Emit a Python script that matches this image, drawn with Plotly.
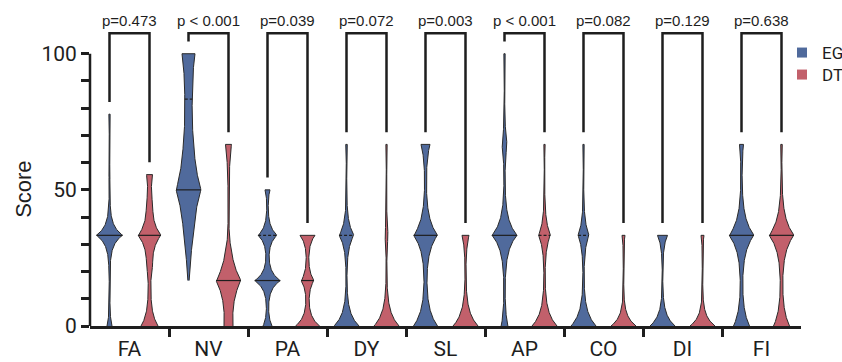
import numpy as np
import plotly.graph_objects as go

# ---------------- data ----------------
SCALES = ["FA", "NV", "PA", "DY", "SL", "AP", "CO", "DI", "FI"]
P_TEXT = ["p=0.473", "p < 0.001", "p=0.039", "p=0.072", "p=0.003",
          "p < 0.001", "p=0.082", "p=0.129", "p=0.638"]

# response levels of each scale (scores step)
LEVEL_STEP = [100 / 9, 100 / 6, 100 / 6, 100 / 3, 100 / 3, 100 / 3, 100 / 3, 100 / 3, 100 / 3]

# observed range of each group
EG_MIN = [0, 16.7, 0, 0, 0, 0, 0, 0, 0]
EG_MAX = [77.8, 100, 50, 66.7, 66.7, 100, 66.7, 33.3, 66.7]
DT_MIN = [0, 0, 0, 0, 0, 0, 0, 0, 0]
DT_MAX = [55.6, 66.7, 33.3, 66.7, 33.3, 66.7, 33.3, 33.3, 66.7]

# relative density (violin width) at each response level, from the minimum upward
EG_DENSITY = [
    [0.20, 0.05, 0.06, 1.04, 0.06, 0.05, 0.05, 0.05],
    [0.05, 0.38, 1.00, 0.42, 0.30, 0.52],
    [0.36, 1.02, 0.76, 0.20],
    [1.00, 0.60, 0.06],
    [0.96, 0.96, 0.36],
    [0.27, 1.00, 0.22, 0.05],
    [1.00, 0.44, 0.05],
    [1.00, 0.40],
    [0.64, 1.00, 0.16],
]
DT_DENSITY = [
    [0.68, 0.12, 0.26, 0.92, 0.28, 0.24],
    [0.36, 1.00, 0.06, 0.04, 0.24],
    [0.96, 0.52, 0.60],
    [1.00, 0.14, 0.05],
    [1.00, 0.28],
    [1.00, 0.48, 0.05],
    [1.00, 0.12],
    [1.00, 0.12],
    [0.64, 1.00, 0.06],
]
# kernel bandwidth of each density estimate (score units)
EG_BW = [3.5, 14, 3.2, 4.5, 6, 5.5, 5, 4, 6]
DT_BW = [5, 8, 3.5, 5, 5, 5, 3.5, 3.5, 6]

# medians (solid line) and visible upper quartiles (dashed line)
EG_MEDIAN = [33.3, 50, 16.7, 0, 33.3, 33.3, 0, 0, 33.3]
DT_MEDIAN = [33.3, 16.7, 16.7, 0, 0, 0, 0, 0, 33.3]
EG_Q3 = [None, 83.3, 33.3, 33.3, None, None, 33.3, None, None]
DT_Q3 = [None, None, None, None, None, 33.3, None, None, None]

GROUPS = ["EG", "DT"]
COLORS = {"EG": "#506A9C", "DT": "#C2606B"}

# ---------------- styling constants ----------------
PX_PER_CAT = 79.0
OFFSET = 20 / PX_PER_CAT          # group offset from category centre
HALF = 12.5 / PX_PER_CAT          # half width of a density of 1
FLOOR = 0.02
BRACKET_TOP = 107.5
BRACKET_GAP = 4.5
P_Y = 112.3
YMAX = 119.0
AXF = "Roboto, Liberation Sans, sans-serif"
REG = "Liberation Sans, Arial, sans-serif"
INK = "#1e1e1e"
PLOT_TOP, PLOT_BOTTOM = 2, 326    # px


def profile(levels, dens, bw, y):
    L = np.asarray(levels, float)
    D = np.asarray(dens, float)
    K = np.exp(-np.abs(L[:, None] - L[None, :]) / bw)
    a = np.linalg.solve(K, D)
    f = np.exp(-np.abs(y[:, None] - L[None, :]) / bw) @ a
    return np.maximum(f, FLOOR)


def paper_y(px):
    return (PLOT_BOTTOM - px) / (PLOT_BOTTOM - PLOT_TOP)


fig = go.Figure()

for i, sc in enumerate(SCALES):
    for g in GROUPS:
        if g == "EG":
            lo, hi, dens, bw, med, q3 = EG_MIN[i], EG_MAX[i], EG_DENSITY[i], EG_BW[i], EG_MEDIAN[i], EG_Q3[i]
            xc = i - OFFSET
        else:
            lo, hi, dens, bw, med, q3 = DT_MIN[i], DT_MAX[i], DT_DENSITY[i], DT_BW[i], DT_MEDIAN[i], DT_Q3[i]
            xc = i + OFFSET
        levels = [lo + k * LEVEL_STEP[i] for k in range(len(dens))]
        levels[-1] = hi
        y = np.unique(np.concatenate([np.linspace(lo, hi, 400), levels]))
        f = profile(levels, dens, bw, y)
        xs = np.concatenate([xc + HALF * f, (xc - HALF * f)[::-1]])
        ys = np.concatenate([y, y[::-1]])
        fig.add_trace(go.Scatter(
            x=xs, y=ys, mode="lines", fill="toself", fillcolor=COLORS[g],
            line=dict(color="#2a2a2a", width=1), showlegend=False, hoverinfo="skip"))
        # median and quartile lines
        for val, dash in [(med, "solid"), (q3, "3px,2px")]:
            if val is None or val <= lo:
                continue
            w = profile(levels, dens, bw, np.array([val]))[0] * HALF
            fig.add_trace(go.Scatter(
                x=[xc - w, xc + w], y=[val, val], mode="lines",
                line=dict(color=INK, width=1.2, dash=dash),
                showlegend=False, hoverinfo="skip"))

    # significance bracket
    fig.add_trace(go.Scatter(
        x=[i - OFFSET, i - OFFSET, i + OFFSET, i + OFFSET],
        y=[EG_MAX[i] + BRACKET_GAP, BRACKET_TOP, BRACKET_TOP, DT_MAX[i] + BRACKET_GAP],
        mode="lines", line=dict(color=INK, width=2.5), showlegend=False, hoverinfo="skip"))
    fig.add_annotation(x=i, y=P_Y, text=P_TEXT[i], showarrow=False,
                       font=dict(family=REG, size=15, color=INK),
                       xanchor="center", yanchor="middle")

# legend entries (one legend box per group so the rows sit where the reference has them)
legend_boxes = {"EG": ("legend", 53), "DT": ("legend2", 75)}
for g in GROUPS:
    fig.add_trace(go.Scatter(
        x=[None], y=[None], mode="markers", name=g, legend=legend_boxes[g][0],
        marker=dict(symbol="square", size=10, color=COLORS[g])))

legend_style = dict(x=(782 - 90) / 711, xanchor="left", yanchor="middle",
                    font=dict(family=AXF, size=17, color=INK),
                    itemwidth=30, bgcolor="rgba(0,0,0,0)", borderwidth=0)

# y axis line (0 to 100 only)
fig.add_shape(type="line", xref="paper", yref="y", x0=0, x1=0, y0=0, y1=100,
              line=dict(color=INK, width=2.5))

fig.add_annotation(xref="paper", yref="y", x=(24 - 90) / 711, y=50, text="Score",
                   textangle=-90, showarrow=False,
                   font=dict(family=REG, size=22, color=INK),
                   xanchor="center", yanchor="middle")

fig.update_layout(
    width=842, height=362,
    margin=dict(l=90, r=41, t=PLOT_TOP, b=362 - PLOT_BOTTOM, autoexpand=False),
    paper_bgcolor="white", plot_bgcolor="white",
    showlegend=True,
    legend=dict(legend_style, y=paper_y(legend_boxes["EG"][1])),
    legend2=dict(legend_style, y=paper_y(legend_boxes["DT"][1])),
    xaxis=dict(range=[-0.5, 8.5], tickmode="array", tickvals=list(range(len(SCALES))),
               ticktext=SCALES, ticks="", showgrid=False, zeroline=False, automargin=False,
               showline=True, linecolor=INK, linewidth=2.5, ticklabelstandoff=2,
               tickfont=dict(family=AXF, size=21, color=INK),
               minor=dict(tickmode="array", tickvals=[k + 0.5 for k in range(len(SCALES) - 1)],
                          ticks="outside", ticklen=8, tickwidth=2.5, tickcolor=INK, showgrid=False)),
    yaxis=dict(range=[0, YMAX], tickmode="array", tickvals=[0, 50, 100],
               ticktext=["0", "50", "100"], ticks="outside", ticklen=8, tickwidth=2.5,
               tickcolor=INK, showgrid=False, zeroline=False, showline=False, automargin=False,
               tickfont=dict(family=AXF, size=21, color=INK),
               minor=dict(tickmode="array", tickvals=[10, 20, 30, 40, 60, 70, 80, 90],
                          ticks="outside", ticklen=8, tickwidth=2.5, tickcolor=INK, showgrid=False)),
)

# the page body has a default 8px margin; remove it so the figure fills the window exactly
fig.write_html("out.html", config={"displayModeBar": False},
               post_script="document.body.style.margin='0px';")
